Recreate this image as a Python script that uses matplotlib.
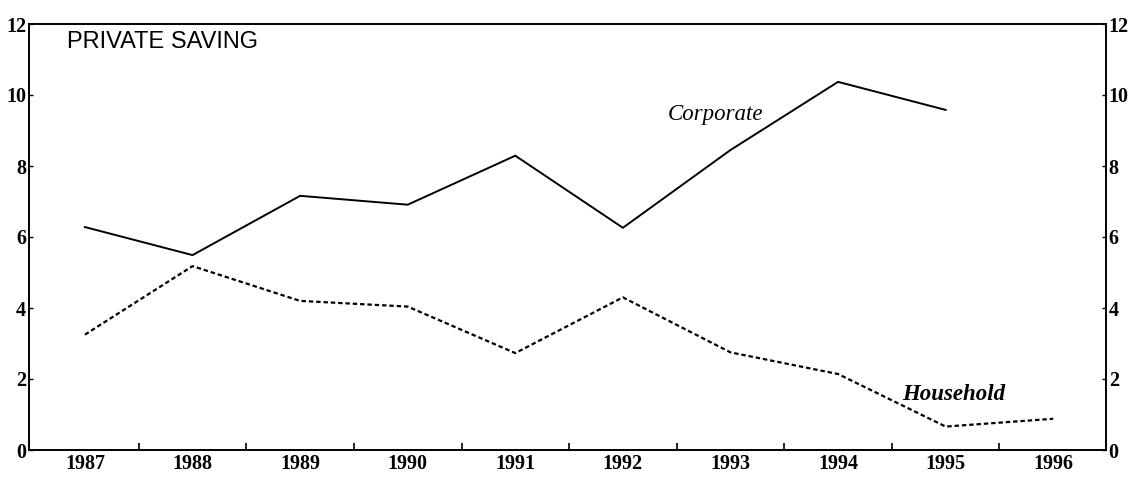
import matplotlib
matplotlib.use("Agg")
import matplotlib.pyplot as plt
from matplotlib.ticker import FixedLocator

years = ["1987", "1988", "1989", "1990", "1991", "1992", "1993", "1994", "1995", "1996"]
corporate = [6.28, 5.49, 7.16, 6.91, 8.29, 6.26, 8.45, 10.37, 9.58]
household = [3.25, 5.18, 4.20, 4.04, 2.73, 4.30, 2.75, 2.14, 0.66, 0.88]
y_ticks = [0, 2, 4, 6, 8, 10, 12]

fig = plt.figure(figsize=(11.37, 4.8), dpi=100)
ax = fig.add_axes([0.0255, 0.0625, 0.9472, 0.8875])

xc = list(range(len(corporate)))
xh = list(range(len(household)))
ax.plot(xc, corporate, color="black", lw=1.4, solid_joinstyle="miter")
ax.plot(xh, household, color="black", lw=1.6, dashes=(2.0, 1.3))

ax.set_xlim(-0.52, 9.49)
ax.set_ylim(0, 12)

for s in ax.spines.values():
    s.set_linewidth(1.4)

serif_bold = dict(family="Liberation Serif", weight="bold", size=14.5)
ax.set_xticks(range(len(years)))
ax.set_xticklabels(years, **serif_bold)
ax.xaxis.set_minor_locator(FixedLocator([i + 0.5 for i in range(len(years) - 1)]))
ax.tick_params(axis="x", which="major", length=0, pad=3)
ax.tick_params(axis="x", which="minor", direction="in", length=5, width=1.2)

ax.set_yticks(y_ticks)
ax.set_yticklabels([str(v) for v in y_ticks], **serif_bold)
ax.tick_params(axis="y", which="major", direction="in", length=3, width=1.0,
               left=True, right=True, labelleft=True, labelright=True, pad=2)

ax.text(-0.17, 11.49, "PRIVATE SAVING", family="Liberation Sans", size=17,
        va="center", ha="left")
ax.text(5.42, 9.44, "Corporate", family="Liberation Serif", style="italic",
        size=16.5, va="center", ha="left")
ax.text(7.60, 1.55, "Household", family="Liberation Serif", style="italic",
        weight="bold", size=16.5, va="center", ha="left")

fig.savefig("out.png", dpi=100)
